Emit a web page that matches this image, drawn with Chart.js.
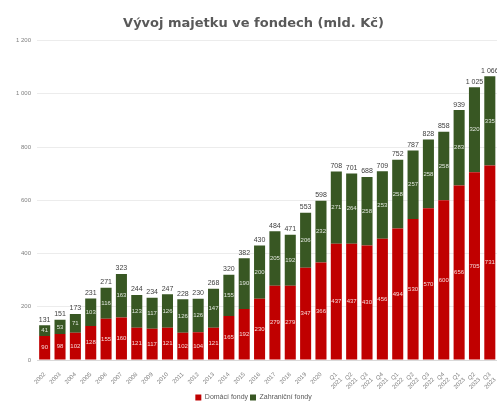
<!DOCTYPE html>
<html>
<head>
<meta charset="utf-8">
<script src="https://cdn.jsdelivr.net/npm/chart.js@4/dist/chart.umd.min.js"></script>
<style>
  body { margin: 0; background: #fff; overflow: hidden; }
  #wrap { width: 503px; height: 411px; }
</style>
</head>
<body>
<div id="wrap"><canvas id="fundChart"></canvas></div>
<script>
const labels = [
  "2002", "2003", "2004", "2005", "2006", "2007", "2008", "2009", "2010", "2011",
  "2012", "2013", "2014", "2015", "2016", "2017", "2018", "2019", "2020",
  ["Q1", "2021"], ["Q2", "2021"], ["Q3", "2021"], ["Q4", "2021"],
  ["Q1", "2022"], ["Q2", "2022"], ["Q3", "2022"], ["Q4", "2022"],
  ["Q1", "2023"], ["Q2", "2023"], ["Q3", "2023"]
];
const domestic = [90, 98, 102, 128, 155, 160, 121, 117, 121, 102, 104, 121, 165, 192, 230, 279, 279, 347, 366,
  437, 437, 430, 456, 494, 530, 570, 600, 656, 705, 731];
const foreign = [41, 53, 71, 103, 116, 163, 123, 117, 126, 126, 126, 147, 155, 190, 200, 205, 192, 206, 232,
  271, 264, 258, 253, 258, 257, 258, 258, 283, 320, 335];
const yTicks = [0, 200, 400, 600, 800, 1000, 1200];

function fmt(v) {
  return String(v).replace(/\B(?=(\d{3})+(?!\d))/g, " ");
}

// labels inside the segments + totals above the bars
const barLabels = {
  id: "barLabels",
  afterDatasetsDraw(chart) {
    const ctx = chart.ctx;
    ctx.save();
    ctx.textAlign = "center";
    ctx.textBaseline = "middle";
    ctx.font = "6px 'Liberation Sans', Arial, sans-serif";
    ctx.fillStyle = "rgba(255,255,255,0.85)";
    chart.data.datasets.forEach((ds, i) => {
      chart.getDatasetMeta(i).data.forEach((bar, j) => {
        const mid = (bar.y + bar.base) / 2;
        ctx.fillText(fmt(ds.data[j]), bar.x, mid);
      });
    });
    ctx.font = "7px 'Liberation Sans', Arial, sans-serif";
    ctx.fillStyle = "#404040";
    ctx.textBaseline = "bottom";
    chart.getDatasetMeta(1).data.forEach((bar, j) => {
      ctx.fillText(fmt(domestic[j] + foreign[j]), bar.x, bar.y - 2);
    });
    ctx.restore();
  }
};

const canvas = document.getElementById("fundChart");

new Chart(canvas, {
  type: "bar",
  data: {
    labels: labels,
    datasets: [
      { label: "Domácí fondy", data: domestic, backgroundColor: "#c00000" },
      { label: "Zahraniční fondy", data: foreign, backgroundColor: "#385723" }
    ]
  },
  options: {
    responsive: true,
    maintainAspectRatio: false,
    animation: false,
    barPercentage: 0.72,
    categoryPercentage: 1,
    layout: { padding: { left: 4, right: 0, top: 12, bottom: 0 } },
    plugins: {
      title: {
        display: true,
        text: "Vývoj majetku ve fondech (mld. Kč)",
        color: "#595959",
        font: { size: 13, weight: "bold", family: "'DejaVu Sans', sans-serif" },
        padding: { top: 4, bottom: 9 }
      },
      legend: {
        position: "bottom",
        labels: {
          boxWidth: 6,
          boxHeight: 6,
          padding: 2,
          color: "#595959",
          font: { size: 7, family: "'Liberation Sans', Arial, sans-serif" }
        }
      },
      tooltip: { enabled: false }
    },
    scales: {
      x: {
        stacked: true,
        grid: { display: false },
        border: { color: "#d9d9d9" },
        afterFit(axis) { axis.height = 32; },
        ticks: {
          autoSkip: false,
          maxRotation: 45,
          minRotation: 45,
          color: "#808080",
          font: { size: 6, family: "'Liberation Sans', Arial, sans-serif" },
          padding: 3
        }
      },
      y: {
        stacked: true,
        min: 0,
        max: 1200,
        afterBuildTicks(axis) {
          axis.ticks = yTicks.map(v => ({ value: v }));
        },
        afterFit(axis) { axis.width = 33; },
        grid: { color: "#ececec", drawTicks: false },
        border: { display: false },
        ticks: {
          color: "#808080",
          padding: 6,
          font: { size: 6, family: "'Liberation Sans', Arial, sans-serif" },
          callback: v => fmt(v)
        }
      }
    }
  },
  plugins: [barLabels]
});
</script>
</body>
</html>
